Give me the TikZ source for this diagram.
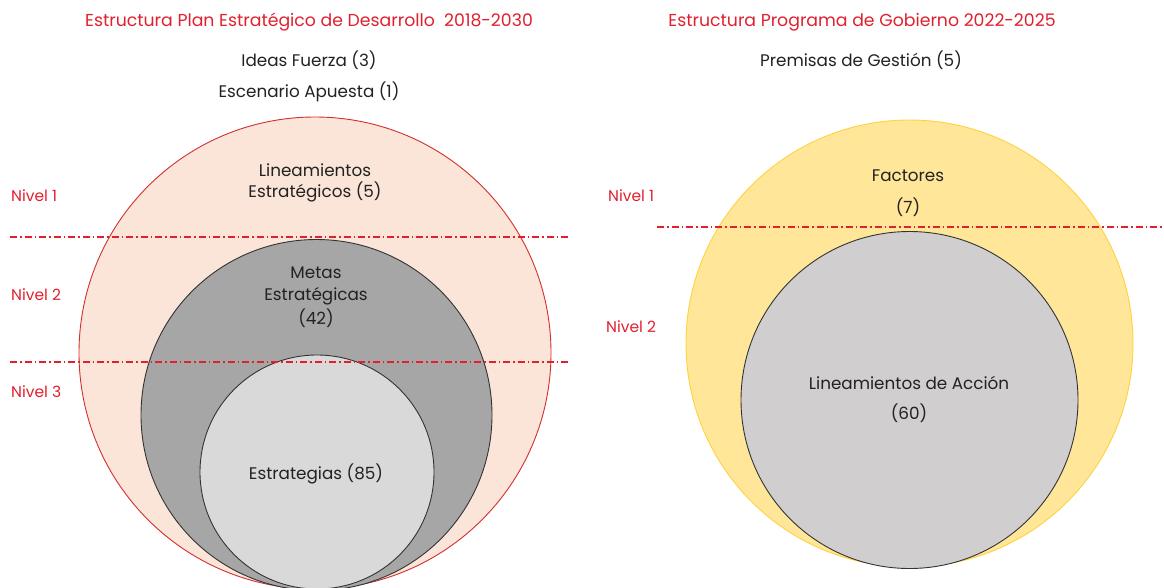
\documentclass[tikz,border=0pt]{standalone}
\usepackage{fontspec}
\setmainfont{Poppins}
\definecolor{tred}{HTML}{E0202E}
\definecolor{cred}{HTML}{D32F2F}
\definecolor{peach}{HTML}{FBE4D8}
\definecolor{gdark}{HTML}{A6A6A6}
\definecolor{glight}{HTML}{D9D9D9}
\definecolor{yfill}{HTML}{FFE699}
\definecolor{ydraw}{HTML}{FFD23F}
\definecolor{gright}{HTML}{D0CECE}
\definecolor{txt}{HTML}{222222}
\begin{document}
\begin{tikzpicture}[x=1pt,y=-1pt,
  title/.style={text=tred,font=\fontsize{17.3}{20}\selectfont,inner sep=0pt,anchor=center},
  lbl/.style={text=txt,font=\fontsize{16.8}{20}\selectfont,inner sep=0pt,anchor=center},
  niv/.style={text=tred,font=\fontsize{15.5}{18}\selectfont,inner sep=0pt,anchor=west},
  ring/.style={circle,inner sep=0pt,line width=0.9pt},
  level/.style={draw=tred,line width=1.1pt,dash pattern=on 7pt off 3pt on 1.5pt off 3pt}]
\useasboundingbox (0,0) rectangle (1164,587);
% left circles
\node[ring,draw=cred,fill=peach,minimum size=472pt] (outerL) at (315,353) {};
\node[ring,draw=black!80,fill=gdark,minimum size=351pt] (midL) at (316.5,415) {};
\node[ring,draw=black!80,fill=glight,minimum size=234pt] (innerL) at (317,472) {};
% right circles
\node[ring,draw=ydraw,fill=yfill,minimum size=447pt] (outerR) at (909.5,343.5) {};
\node[ring,draw=black!80,fill=gright,minimum size=337pt] (innerR) at (909.5,400) {};
% level lines
\coordinate (l1a) at (10,237); \coordinate (l1b) at (571,237);
\coordinate (l2a) at (10,362); \coordinate (l2b) at (571,362);
\coordinate (r1a) at (657,227); \coordinate (r1b) at (1162,227);
\draw[level] (l1a) -- (l1b);
\draw[level] (l2a) -- (l2b);
\draw[level] (r1a) -- (r1b);
% titles
\node[title] (tL) at (309,22) {Estructura Plan Estratégico de Desarrollo\ \ 2018-2030};
\node[lbl] (ideas) at (309,60) {Ideas Fuerza (3)};
\node[lbl] (esc) at (309,92) {Escenario Apuesta (1)};
\node[title] (tR) at (862,22) {Estructura Programa de Gobierno 2022-2025};
\node[lbl] (prem) at (861,60) {Premisas de Gestión (5)};
% level labels
\node[niv] (n1L) at (11,196) {Nivel 1};
\node[niv] (n2L) at (11,295) {Nivel 2};
\node[niv] (n3L) at (11,392) {Nivel 3};
\node[niv] (n1R) at (608,196) {Nivel 1};
\node[niv] (n2R) at (606,327) {Nivel 2};
% inner labels
\node[lbl] (lin1) at (315,170) {Lineamientos};
\node[lbl] (lin2) at (315,192) {Estratégicos (5)};
\node[lbl] (met1) at (316,273) {Metas};
\node[lbl] (met2) at (316,296) {Estratégicas};
\node[lbl] (met3) at (316,318) {(42)};
\node[lbl] (est) at (316,474) {Estrategias (85)};
\node[lbl] (fac1) at (908,176) {Factores};
\node[lbl] (fac2) at (908,207) {(7)};
\node[lbl] (lac1) at (909,383) {Lineamientos de Acción};
\node[lbl] (lac2) at (909,413) {(60)};
\end{tikzpicture}
\end{document}
